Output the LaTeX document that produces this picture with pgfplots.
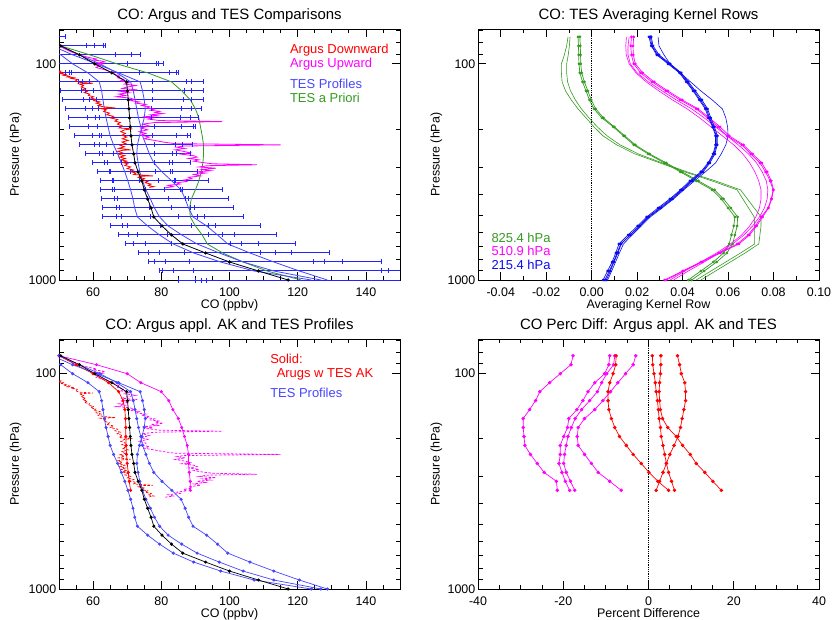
\documentclass[border=0pt]{standalone}
\usepackage{fontspec}
\setmainfont{Liberation Sans}
\usepackage{pgfplots}
\usepackage{pgfplotstable}
\pgfplotsset{compat=1.18}
\definecolor{cred}{RGB}{255,0,0}
\definecolor{cmag}{RGB}{255,0,255}
\definecolor{cblue}{RGB}{10,10,240}
\definecolor{cbar}{RGB}{35,35,255}
\definecolor{cblueL}{RGB}{70,70,255}
\definecolor{cgreen}{RGB}{50,155,30}

% TES profiles on TES levels
\pgfplotstableread{
p bk p1 p3 p4
1000 117.2 124.0 128.7 126.8
908.5 108.5 107.2 120.5 113.0
825.4 100.0 97.4 113.0 104.0
749.9 93.0 89.5 106.0 97.0
681.3 86.3 83.5 99.5 90.5
619.0 83.0 79.5 96.5 86.0
562.3 80.2 76.0 93.3 82.0
510.9 77.8 73.0 89.3 79.5
464.2 77.0 72.2 88.0 78.0
421.7 76.0 71.7 87.0 76.8
383.1 75.0 71.0 85.8 75.5
348.1 74.3 70.2 83.1 74.5
316.2 73.2 69.3 80.2 73.7
287.3 72.3 68.3 77.8 73.2
261.0 71.9 67.2 76.5 72.8
237.1 71.4 66.0 75.5 73.0
215.4 71.1 65.0 74.5 73.6
195.8 70.9 64.4 74.0 74.3
177.8 70.7 63.8 73.3 75.0
161.6 70.5 63.3 72.8 75.3
146.8 70.3 62.9 72.3 75.0
133.4 70.1 62.5 71.8 74.5
121.2 69.8 61.8 71.0 73.8
110.1 65.5 58.5 67.0 67.5
100.0 60.5 54.0 62.0 61.0
90.85 56.0 50.5 56.0 54.0
82.54 50.5 46.0 50.0 48.0
75.00 45.0 42.0 45.0 43.0
}\tes

% error bar ends (low / high) of the four TES profiles
\pgfplotstableread{
p bl bh al ah cl ch dl dh
1000 84.9 161.7 89.9 171.1 93.3 177.6 91.9 175.0
908.5 80.4 146.5 79.4 144.7 89.3 162.7 83.7 152.6
825.4 78.1 128.0 76.1 124.7 88.3 144.6 81.3 133.1
749.9 76.2 113.5 73.4 109.2 86.9 129.3 79.5 118.3
681.3 71.9 103.6 69.6 100.2 82.9 119.4 75.4 108.6
619.0 70.3 97.9 67.4 93.8 81.8 113.9 72.9 101.5
562.3 68.5 93.8 65.0 88.9 79.7 109.2 70.1 95.9
510.9 66.8 90.6 62.7 85.0 76.7 104.0 68.2 92.6
464.2 67.0 88.6 62.8 83.0 76.5 101.2 67.8 89.7
421.7 66.4 87.0 62.6 82.1 76.0 99.6 67.1 87.9
383.1 65.8 85.5 62.3 80.9 75.3 97.8 66.2 86.1
348.1 65.8 84.0 62.1 79.3 73.5 93.9 65.9 84.2
316.2 64.8 82.7 61.3 78.3 71.0 90.6 65.2 83.3
287.3 63.4 82.4 59.9 77.9 68.2 88.7 64.2 83.4
261.0 62.0 83.4 57.9 78.0 66.0 88.7 62.8 84.4
237.1 60.5 84.3 55.9 77.9 64.0 89.1 61.9 86.1
215.4 59.7 84.6 54.6 77.4 62.6 88.7 61.8 87.6
195.8 58.6 85.8 53.2 77.9 61.2 89.5 61.4 89.9
177.8 58.4 85.5 52.7 77.2 60.6 88.7 62.0 90.8
161.6 57.8 86.0 51.9 77.2 59.7 88.8 61.7 91.9
146.8 57.2 86.5 51.1 77.4 58.8 88.9 61.0 92.3
133.4 56.5 86.9 50.4 77.5 57.9 89.0 60.1 92.4
121.2 55.8 87.3 49.4 77.3 56.8 88.8 59.0 92.3
110.1 52.0 82.5 46.4 73.7 53.2 84.4 53.6 85.1
100.0 46.5 78.7 41.5 70.2 47.7 80.6 46.9 79.3
90.85 42.4 73.9 38.3 66.7 42.4 73.9 40.9 71.3
82.54 40.1 63.6 36.5 58.0 39.7 63.0 38.1 60.5
75.00 39.1 51.8 36.5 48.3 39.1 51.8 37.4 49.5
}\caps

% error bar extent at each level (outermost ends), one segment per level
\pgfplotstableread{
x p
84.9 1000
165.0 1000
nan nan
79.4 908.5
162.7 908.5
nan nan
76.1 825.4
144.6 825.4
nan nan
73.4 749.9
129.3 749.9
nan nan
69.6 681.3
119.4 681.3
nan nan
67.4 619.0
113.9 619.0
nan nan
65.0 562.3
109.2 562.3
nan nan
62.7 510.9
104.0 510.9
nan nan
62.8 464.2
101.2 464.2
nan nan
62.6 421.7
99.6 421.7
nan nan
62.3 383.1
97.8 383.1
nan nan
62.1 348.1
93.9 348.1
nan nan
61.3 316.2
90.6 316.2
nan nan
59.9 287.3
88.7 287.3
nan nan
57.9 261.0
88.7 261.0
nan nan
55.9 237.1
89.1 237.1
nan nan
54.6 215.4
88.7 215.4
nan nan
53.2 195.8
89.9 195.8
nan nan
52.7 177.8
90.8 177.8
nan nan
51.9 161.6
91.9 161.6
nan nan
51.1 146.8
92.3 146.8
nan nan
50.4 133.4
92.4 133.4
nan nan
49.4 121.2
92.3 121.2
nan nan
46.4 110.1
85.1 110.1
nan nan
41.5 100.0
80.6 100.0
nan nan
38.3 90.85
73.9 90.85
nan nan
36.5 82.54
63.6 82.54
nan nan
36.5 75.00
51.8 75.00
}\bars

\pgfplotstableread{
p ap
1000 121.0
908.5 111.0
825.4 104.0
749.9 98.0
681.3 93.5
619.0 92.0
562.3 90.0
510.9 88.5
464.2 88.3
421.7 88.8
383.1 90.0
348.1 91.0
316.2 91.7
287.3 92.2
261.0 92.4
237.1 92.4
215.4 92.0
195.8 91.5
177.8 91.0
161.6 90.0
146.8 88.5
133.4 86.0
121.2 83.0
110.1 76.0
100.0 67.0
90.85 59.0
82.54 50.5
75.00 45.0
}\apriori

\pgfplotstableread{
v p
49.0 107
50.5 108
49.8 109
51.2 110
50.4 111
52.0 112
51.3 113
53.1 114
52.4 115
54.5 116
53.6 117
55.4 118
54.8 120
56.3 122
60.0 123
55.9 124
57.2 126
56.5 128
57.8 130
56.9 132
58.3 134
57.4 136
59.0 138
58.6 140
60.1 142
59.3 144
60.8 146
60.2 148
62.0 150
60.9 152
62.4 154
61.5 156
63.0 158
66.5 160
62.2 161
63.9 163
63.1 166
64.8 169
64.0 172
66.0 175
65.1 178
67.2 181
66.4 184
68.0 187
67.1 190
68.6 194
67.6 198
71.5 200
69.2 202
68.1 206
69.5 210
68.4 214
69.9 218
68.6 222
70.3 226
68.5 230
69.6 234
67.9 238
69.2 242
67.5 246
71.0 250
68.8 251
67.2 254
68.6 258
67.6 262
69.3 266
67.8 270
69.5 274
68.2 278
69.9 282
68.6 286
70.2 290
69.3 295
71.0 300
70.0 305
71.9 310
70.8 315
72.6 320
71.9 325
77.5 330
74.0 331
73.2 335
75.1 340
74.2 345
76.0 350
75.3 355
77.0 360
76.2 365
77.8 370
76.5 373
}\down

\pgfplotstableread{
v p
48.0 80
49.5 82
51.0 84
52.2 86
53.5 88
55.5 90
57.0 92
59.5 94
61.0 95
60.0 96
62.5 97
63.5 98
61.5 99
62.8 100
60.6 101
61.8 102
60.9 104
63.0 106
64.5 108
65.8 110
66.5 112
67.8 114
67.2 116
69.0 118
68.0 120
70.5 122
69.2 124
72.5 126
70.0 128
68.5 130
73.0 132
68.0 134
70.5 136
67.5 138
69.5 140
66.8 142
70.8 144
72.0 146
71.0 148
73.5 150
72.5 152
75.5 154
74.2 156
76.5 158
75.8 160
78.0 162
76.8 164
79.5 166
78.2 168
80.5 170
77.0 172
79.0 174
74.5 176
77.5 178
76.0 180
79.5 183
97.8 185
78.0 187
74.5 190
76.5 194
74.0 198
76.0 202
73.5 206
75.5 210
74.0 214
76.5 218
75.0 222
78.0 226
80.5 230
84.0 234
115.0 237
86.5 240
84.5 243
87.0 246
84.0 250
86.5 254
88.5 258
86.0 262
89.5 266
90.5 270
88.0 274
91.0 278
89.5 282
92.0 286
95.0 290
108.0 293
93.5 296
91.0 300
96.0 304
92.0 308
94.5 312
90.5 316
93.0 320
89.5 325
91.5 330
88.0 335
89.0 340
86.5 345
87.5 350
84.5 355
85.5 360
82.0 365
83.5 370
81.0 375
}\up

\pgfplotstableread{
p g1 g2 g3 g4 m1 m2 m3 m4 b1 b2 b3 b4
1000 0.0425 0.0440 0.0460 0.0480 0.0321 0.0328 0.0345 0.0360 0.0065 0.0058 0.0070 0.0050
908.5 0.0480 0.0495 0.0525 0.0545 0.0400 0.0405 0.0410 0.0425 0.0082 0.0078 0.0088 0.0070
825.4 0.0535 0.0550 0.0590 0.0610 0.0480 0.0486 0.0480 0.0495 0.0098 0.0096 0.0105 0.0090
749.9 0.0580 0.0595 0.0655 0.0675 0.0560 0.0566 0.0550 0.0560 0.0115 0.0112 0.0122 0.0106
681.3 0.0605 0.0620 0.0717 0.0735 0.0640 0.0648 0.0610 0.0620 0.0130 0.0128 0.0140 0.0120
619.0 0.0615 0.0630 0.0717 0.0740 0.0688 0.0694 0.0660 0.0670 0.0170 0.0168 0.0178 0.0160
562.3 0.0625 0.0640 0.0717 0.0745 0.0720 0.0726 0.0695 0.0708 0.0210 0.0212 0.0218 0.0202
510.9 0.0630 0.0642 0.0715 0.0745 0.0746 0.0752 0.0722 0.0738 0.0248 0.0252 0.0258 0.0242
464.2 0.0600 0.0612 0.0690 0.0715 0.0776 0.0778 0.0738 0.0760 0.0300 0.0305 0.0310 0.0292
421.7 0.0570 0.0580 0.0665 0.0685 0.0790 0.0792 0.0745 0.0772 0.0350 0.0356 0.0360 0.0344
383.1 0.0530 0.0540 0.0640 0.0655 0.0798 0.0800 0.0745 0.0775 0.0395 0.0400 0.0405 0.0390
348.1 0.0460 0.0470 0.0530 0.0545 0.0785 0.0790 0.0735 0.0768 0.0438 0.0444 0.0452 0.0432
316.2 0.0390 0.0398 0.0410 0.0420 0.0765 0.0772 0.0718 0.0750 0.0485 0.0490 0.0500 0.0480
287.3 0.0320 0.0328 0.0300 0.0310 0.0740 0.0748 0.0695 0.0725 0.0515 0.0520 0.0545 0.0512
261.0 0.0248 0.0255 0.0190 0.0205 0.0700 0.0708 0.0665 0.0690 0.0538 0.0542 0.0570 0.0534
237.1 0.0185 0.0192 0.0110 0.0125 0.0660 0.0668 0.0625 0.0645 0.0548 0.0552 0.0590 0.0545
215.4 0.0140 0.0146 0.0050 0.0068 0.0595 0.0605 0.0575 0.0595 0.0548 0.0553 0.0600 0.0545
195.8 0.0095 0.0100 0.0010 0.0025 0.0555 0.0565 0.0525 0.0545 0.0535 0.0540 0.0598 0.0532
177.8 0.0045 0.0052 -0.0025 -0.0012 0.0510 0.0518 0.0475 0.0495 0.0518 0.0524 0.0590 0.0514
161.6 0.0010 0.0018 -0.0060 -0.0045 0.0460 0.0468 0.0420 0.0440 0.0505 0.0510 0.0575 0.0500
146.8 -0.0010 -0.0002 -0.0090 -0.0072 0.0388 0.0398 0.0355 0.0372 0.0478 0.0485 0.0530 0.0473
133.4 -0.0025 -0.0017 -0.0115 -0.0093 0.0326 0.0335 0.0295 0.0310 0.0450 0.0456 0.0480 0.0446
121.2 -0.0040 -0.0032 -0.0130 -0.0106 0.0265 0.0275 0.0240 0.0250 0.0420 0.0425 0.0435 0.0416
110.1 -0.0052 -0.0044 -0.0133 -0.0110 0.0215 0.0225 0.0195 0.0200 0.0390 0.0394 0.0390 0.0386
100.0 -0.0056 -0.0048 -0.0133 -0.0110 0.0185 0.0192 0.0165 0.0170 0.0340 0.0345 0.0345 0.0336
90.85 -0.0057 -0.0049 -0.0120 -0.0103 0.0175 0.0183 0.0152 0.0160 0.0290 0.0296 0.0318 0.0286
82.54 -0.0058 -0.0050 -0.0110 -0.0098 0.0172 0.0182 0.0150 0.0160 0.0265 0.0270 0.0296 0.0262
75.00 -0.0060 -0.0052 -0.0104 -0.0095 0.0175 0.0185 0.0153 0.0165 0.0258 0.0262 0.0292 0.0252
}\ak

\pgfplotstableread{
p mak rak
348.1 88.5 71.0
316.2 88.5 70.6
287.3 88.2 70.3
261.0 88.0 70.0
237.1 88.0 69.8
215.4 87.6 69.7
195.8 86.8 69.6
177.8 86.0 69.6
161.6 85.0 69.5
146.8 83.4 69.3
133.4 82.2 68.8
121.2 80.0 67.5
110.1 74.0 64.5
100.0 70.0 60.0
90.85 61.0 55.0
82.54 50.0 50.0
}\aksol

\pgfplotstableread{
p ma mb mc md r1 r2 r3 r4
348.1 -21.4 -18.5 -17.3 -6.4 6.1 17.1 1.8 4.7
316.2 -21.6 -19.5 -18.3 -9.1 5.4 15.1 2.6 2.2
287.3 -24.5 -20.3 -19.3 -11.8 4.7 13.2 3.4 0.1
261.0 -26.1 -21.0 -19.9 -13.4 4.2 11.2 4.2 -1.7
237.1 -27.7 -20.7 -19.7 -15.0 3.8 9.8 5.0 -3.6
215.4 -29.0 -20.7 -19.3 -16.5 3.4 8.0 6.0 -5.2
195.8 -29.2 -19.9 -18.9 -16.7 3.0 6.5 6.9 -6.8
177.8 -29.4 -19.0 -18.1 -16.5 2.8 4.5 7.5 -7.9
161.6 -29.4 -18.7 -17.2 -15.0 2.5 3.3 7.9 -8.7
146.8 -27.9 -16.8 -15.7 -12.6 2.3 2.8 8.3 -9.3
133.4 -26.5 -15.4 -13.8 -10.7 2.1 2.6 8.7 -9.5
121.2 -25.5 -14.2 -12.0 -8.9 1.8 2.5 8.7 -9.5
110.1 -23.2 -12.6 -11.0 -7.2 1.6 2.6 8.5 -9.1
100.0 -20.7 -10.3 -9.8 -5.4 1.3 2.8 7.7 -8.3
90.85 -18.2 -9.3 -8.2 -3.6 1.0 2.9 7.3 -7.7
82.54 -17.7 -9.1 -7.9 -3.0 0.9 2.9 6.8 -7.6
}\pd

\tikzset{
  lgn/.style={anchor=west, inner sep=0pt, font=\fontsize{13}{15}\selectfont},
  dlp/.style={line width=0.7bp, mark=*, mark size=1.2bp},
  capm/.style={only marks, mark=|, mark size=2.5bp, cbar, line width=1bp},
}

\begin{document}
\begin{tikzpicture}
\useasboundingbox (0,0) rectangle (833bp,620bp);

% ---------------- Panel 1 ----------------
\begin{axis}[
  scale only axis, width=341bp, height=251bp,
  at={(59bp,340bp)}, anchor=south west,
  ymode=log, y dir=reverse, ymin=69, ymax=1000,
  ytick={100,1000}, yticklabels={100,1000},
  minor ytick={70,80,90,200,300,400,500,600,700,800,900},
  xmin=50, xmax=150, xtick={60,80,100,120,140},
  minor xtick={55,65,70,75,85,90,95,105,110,115,125,130,135,145},
  tick pos=both, tick align=inside,
  major tick length=8bp, minor tick length=4.5bp,
  tick style={black, line width=0.8bp},
  axis line style={black, line width=1bp},
  tick label style={font=\fontsize{12.5}{14}\selectfont, inner sep=0.5bp},
  label style={font=\fontsize{12.5}{14}\selectfont, inner sep=0.5bp},
  title style={font=\fontsize{15}{17}\selectfont, at={(0.5,1)}, anchor=base, yshift=3.5bp},
  xlabel style={at={(axis description cs:0.5,0)}, anchor=base, yshift=-28.5bp},
  ylabel style={at={(axis description cs:-0.127,0.5)}, anchor=center},
  xticklabel style={anchor=base, yshift=-16.5bp},
  yticklabel style={xshift=-2bp},
  xlabel={CO (ppbv)}, ylabel={Pressure (hPa)},
  title={CO: Argus and TES Comparisons},
  unbounded coords=jump,
  /pgf/number format/assume math mode=true]
\addplot[cbar, line width=1bp] table[x=x, y=p] {\bars};
\addplot[capm] table[x=bl, y=p] {\caps};
\addplot[capm] table[x=bh, y=p] {\caps};
\addplot[capm] table[x=al, y=p] {\caps};
\addplot[capm] table[x=ah, y=p] {\caps};
\addplot[capm] table[x=cl, y=p] {\caps};
\addplot[capm] table[x=ch, y=p] {\caps};
\addplot[capm] table[x=dl, y=p] {\caps};
\addplot[capm] table[x=dh, y=p] {\caps};
\addplot[cgreen, line width=0.8bp] table[x=ap, y=p] {\apriori};
\addplot[cblueL, line width=0.8bp] table[x=p1, y=p] {\tes};
\addplot[cblueL, line width=0.8bp] table[x=p3, y=p] {\tes};
\addplot[cblueL, line width=0.8bp] table[x=p4, y=p] {\tes};
\addplot[cred, line width=0.8bp] table[x=v, y=p] {\down};
\addplot[cmag, line width=0.8bp] table[x=v, y=p] {\up};
\addplot[black, line width=0.8bp, mark=*, mark size=1.2bp] table[x=bk, y=p] {\tes};
\node[lgn, text=cred] at (rel axis cs:0.677,0.916) {Argus Downward};
\node[lgn, text=cmag] at (rel axis cs:0.677,0.861) {Argus Upward};
\node[lgn, text=cblueL] at (rel axis cs:0.677,0.781) {TES Profiles};
\node[lgn, text=cgreen] at (rel axis cs:0.677,0.725) {TES a Priori};
\end{axis}

% ---------------- Panel 2 ----------------
\begin{axis}[
  scale only axis, width=341bp, height=251bp,
  at={(478bp,340bp)}, anchor=south west,
  ymode=log, y dir=reverse, ymin=69, ymax=1000,
  ytick={100,1000}, yticklabels={100,1000},
  minor ytick={70,80,90,200,300,400,500,600,700,800,900},
  xmin=-0.05, xmax=0.10,
  xtick={-0.04,-0.02,0,0.02,0.04,0.06,0.08,0.10},
  xticklabels={-0.04,-0.02,0.00,0.02,0.04,0.06,0.08,0.10},
  minor xtick={-0.03,-0.01,0.01,0.03,0.05,0.07,0.09},
  tick pos=both, tick align=inside,
  major tick length=8bp, minor tick length=4.5bp,
  tick style={black, line width=0.8bp},
  axis line style={black, line width=1bp},
  tick label style={font=\fontsize{12.5}{14}\selectfont, inner sep=0.5bp},
  label style={font=\fontsize{12.5}{14}\selectfont, inner sep=0.5bp},
  title style={font=\fontsize{15}{17}\selectfont, at={(0.5,1)}, anchor=base, yshift=3.5bp},
  xlabel style={at={(axis description cs:0.5,0)}, anchor=base, yshift=-28.5bp},
  ylabel style={at={(axis description cs:-0.122,0.5)}, anchor=center},
  xticklabel style={anchor=base, yshift=-16.5bp},
  yticklabel style={xshift=-2bp},
  xlabel={Averaging Kernel Row}, ylabel={Pressure (hPa)},
  title={CO: TES Averaging Kernel Rows}]
\addplot[black, densely dotted, line width=0.8bp] coordinates {(0,69) (0,1000)};
\addplot[cgreen, line width=0.6bp] table[x=g3, y=p] {\ak};
\addplot[cgreen, line width=0.6bp] table[x=g4, y=p] {\ak};
\addplot[cgreen, dlp, mark size=1bp] table[x=g1, y=p] {\ak};
\addplot[cgreen, dlp, mark size=1bp] table[x=g2, y=p] {\ak};
\addplot[cmag, line width=0.6bp] table[x=m3, y=p] {\ak};
\addplot[cmag, line width=0.6bp] table[x=m4, y=p] {\ak};
\addplot[cmag, dlp, mark size=1bp] table[x=m1, y=p] {\ak};
\addplot[cmag, dlp, mark size=1bp] table[x=m2, y=p] {\ak};
\addplot[cblue, line width=0.6bp] table[x=b3, y=p] {\ak};
\addplot[cblue, dlp, mark size=1bp] table[x=b1, y=p] {\ak};
\addplot[cblue, dlp, mark size=1bp] table[x=b2, y=p] {\ak};
\addplot[cblue, dlp, mark size=1bp] table[x=b4, y=p] {\ak};
\node[lgn, text=cgreen] at (rel axis cs:0.039,0.166) {825.4 hPa};
\node[lgn, text=cmag] at (rel axis cs:0.039,0.117) {510.9 hPa};
\node[lgn, text=cblue] at (rel axis cs:0.039,0.062) {215.4 hPa};
\end{axis}

% ---------------- Panel 3 ----------------
\begin{axis}[
  scale only axis, width=341bp, height=250bp,
  at={(59bp,31bp)}, anchor=south west,
  ymode=log, y dir=reverse, ymin=69, ymax=1000,
  ytick={100,1000}, yticklabels={100,1000},
  minor ytick={70,80,90,200,300,400,500,600,700,800,900},
  xmin=50, xmax=150, xtick={60,80,100,120,140},
  minor xtick={55,65,70,75,85,90,95,105,110,115,125,130,135,145},
  tick pos=both, tick align=inside,
  major tick length=8bp, minor tick length=4.5bp,
  tick style={black, line width=0.8bp},
  axis line style={black, line width=1bp},
  tick label style={font=\fontsize{12.5}{14}\selectfont, inner sep=0.5bp},
  label style={font=\fontsize{12.5}{14}\selectfont, inner sep=0.5bp},
  title style={font=\fontsize{15}{17}\selectfont, at={(0.5,1)}, anchor=base, yshift=3.5bp},
  xlabel style={at={(axis description cs:0.5,0)}, anchor=base, yshift=-28.5bp},
  ylabel style={at={(axis description cs:-0.127,0.5)}, anchor=center},
  xticklabel style={anchor=base, yshift=-16.5bp},
  yticklabel style={xshift=-2bp},
  xlabel={CO (ppbv)}, ylabel={Pressure (hPa)},
  title={CO: Argus appl. AK and TES Profiles},
  /pgf/number format/assume math mode=true]
\addplot[cred, line width=0.7bp, dash pattern=on 2.5bp off 1.5bp] table[x=v, y=p] {\down};
\addplot[cmag, line width=0.7bp, dash pattern=on 2.5bp off 1.5bp] table[x=v, y=p] {\up};
\addplot[cred, dlp] table[x=rak, y=p] {\aksol};
\addplot[cmag, dlp] table[x=mak, y=p] {\aksol};
\addplot[cblueL, dlp] table[x=p1, y=p] {\tes};
\addplot[cblueL, dlp] table[x=p3, y=p] {\tes};
\addplot[cblueL, dlp] table[x=p4, y=p] {\tes};
\addplot[black, dlp] table[x=bk, y=p] {\tes};
\node[lgn, text=cred] at (rel axis cs:0.619,0.92) {Solid:};
\node[lgn, text=cred] at (rel axis cs:0.638,0.859) {Arugs w TES AK};
\node[lgn, text=cblueL] at (rel axis cs:0.619,0.783) {TES Profiles};
\end{axis}

% ---------------- Panel 4 ----------------
\begin{axis}[
  scale only axis, width=341bp, height=250bp,
  at={(478bp,31bp)}, anchor=south west,
  ymode=log, y dir=reverse, ymin=69, ymax=1000,
  ytick={100,1000}, yticklabels={100,1000},
  minor ytick={70,80,90,200,300,400,500,600,700,800,900},
  xmin=-40, xmax=40, xtick={-40,-20,0,20,40}, xticklabels={-40,-20,0,20,40},
  minor xtick={-35,-30,-25,-15,-10,-5,5,10,15,25,30,35},
  tick pos=both, tick align=inside,
  major tick length=8bp, minor tick length=4.5bp,
  tick style={black, line width=0.8bp},
  axis line style={black, line width=1bp},
  tick label style={font=\fontsize{12.5}{14}\selectfont, inner sep=0.5bp},
  label style={font=\fontsize{12.5}{14}\selectfont, inner sep=0.5bp},
  title style={font=\fontsize{15}{17}\selectfont, at={(0.5,1)}, anchor=base, yshift=3.5bp},
  xlabel style={at={(axis description cs:0.5,0)}, anchor=base, yshift=-28.5bp},
  ylabel style={at={(axis description cs:-0.122,0.5)}, anchor=center},
  xticklabel style={anchor=base, yshift=-16.5bp},
  yticklabel style={xshift=-2bp},
  xlabel={Percent Difference}, ylabel={Pressure (hPa)},
  title={CO Perc Diff: Argus appl. AK and TES}]
\addplot[black, densely dotted, line width=0.8bp] coordinates {(0,69) (0,1000)};
\addplot[cmag, dlp, mark size=1.4bp] table[x=ma, y=p] {\pd};
\addplot[cmag, dlp, mark size=1.4bp] table[x=mb, y=p] {\pd};
\addplot[cmag, dlp, mark size=1.4bp] table[x=mc, y=p] {\pd};
\addplot[cmag, dlp, mark size=1.4bp] table[x=md, y=p] {\pd};
\addplot[cred, dlp, mark size=1.4bp] table[x=r1, y=p] {\pd};
\addplot[cred, dlp, mark size=1.4bp] table[x=r2, y=p] {\pd};
\addplot[cred, dlp, mark size=1.4bp] table[x=r3, y=p] {\pd};
\addplot[cred, dlp, mark size=1.4bp] table[x=r4, y=p] {\pd};
\end{axis}
\end{tikzpicture}
\end{document}
